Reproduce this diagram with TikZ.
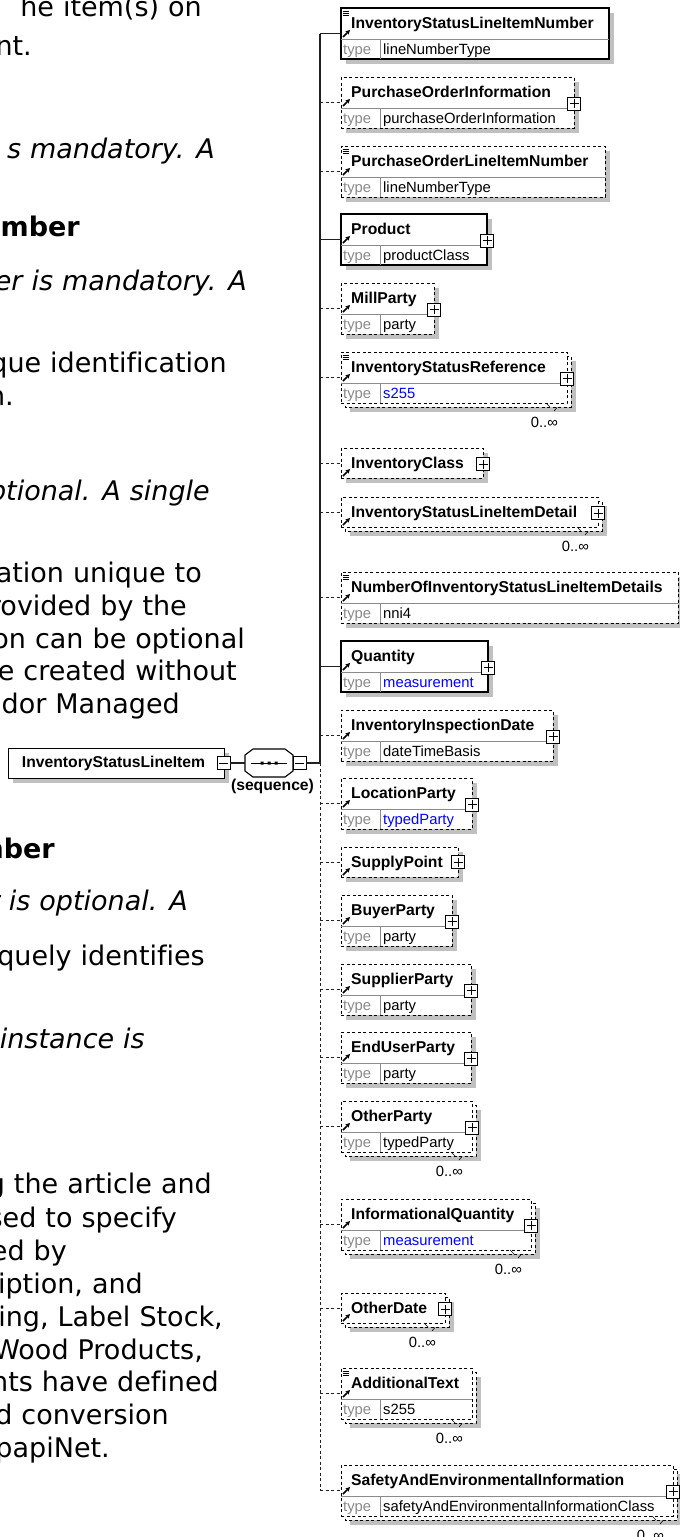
\documentclass[tikz,border=0pt]{standalone}
\usepackage{fontspec}
\setmainfont{DejaVu Sans}[Ligatures=NoCommon, WordSpace=1.05]
\newfontfamily\dfont{Liberation Sans}
\usetikzlibrary{arrows.meta}
\definecolor{shadowc}{HTML}{C0C0C0}
\definecolor{divc}{HTML}{8A8A8A}
\definecolor{typec}{HTML}{8A8A8A}
\definecolor{bluec}{HTML}{0000FF}
\definecolor{linec}{HTML}{202020}
\tikzset{
  mand/.style={draw=black, line width=1.1pt, fill=white},
  opt/.style={draw=black, line width=0.9pt, dash pattern=on 3pt off 2.5pt, fill=white},
  divline/.style={draw=divc, line width=0.8pt},
  nm/.style={anchor=base west, inner sep=0, font=\dfont\bfseries\fontsize{15.7}{18}\selectfont},
  tl/.style={anchor=base west, inner sep=0, text=typec, font=\dfont\fontsize{14.8}{17}\selectfont},
  tv/.style={anchor=base west, inner sep=0, font=\dfont\fontsize{14.8}{17}\selectfont},
  mult/.style={anchor=base east, inner sep=0, font=\dfont\fontsize{14.8}{17}\selectfont},
  refarrow/.style={-{Stealth[length=4.5pt,width=4.5pt]}, line width=1.5pt},
  mandconn/.style={draw=linec, line width=1.1pt},
  optconn/.style={draw=linec, line width=0.9pt, dash pattern=on 3pt off 2.5pt},
  plusbox/.style={draw=black, fill=white, line width=0.9pt, minimum size=13pt, inner sep=0,
    path picture={\draw[line width=0.9pt] ([xshift=-4.5pt]path picture bounding box.center) -- ([xshift=4.5pt]path picture bounding box.center) ([yshift=-4.5pt]path picture bounding box.center) -- ([yshift=4.5pt]path picture bounding box.center);}},
  minusbox/.style={draw=black, fill=white, line width=0.9pt, minimum size=13pt, inner sep=0,
    path picture={\draw[line width=0.9pt] ([xshift=-4.5pt]path picture bounding box.center) -- ([xshift=4.5pt]path picture bounding box.center);}},
  lt/.style={anchor=base east, inner sep=0, font=\fontsize{27}{31}\selectfont},
  lti/.style={lt, font=\fontsize{27}{31}\selectfont\itshape},
  ltb/.style={lt, font=\fontsize{27}{31}\selectfont\bfseries},
}
% typed element: id, top, right, style, name, type, type colour, multi
\newcommand\elemT[8]{%
  \ifnum#8=1
    \fill[shadowc] (350,#2+9) rectangle (#3+9,#2+60);
    \draw[#4] (345,#2+4) rectangle (#3+4,#2+55);
  \else
    \fill[shadowc] (346,#2+5) rectangle (#3+5,#2+56);
  \fi
  \node[#4, anchor=north west, minimum width=#3-341, minimum height=51, inner sep=0, outer sep=0] (#1) at (341,#2) {};
  \draw[divline] (341,#2+31) -- (#3,#2+31) (380,#2+31) -- (380,#2+51);
  \node[nm] (#1-name) at (351,#2+20.5) {#5};
  \node[tl] (#1-tl) at (343,#2+46) {type};
  \node[tv, text=#7] (#1-tv) at (383,#2+46) {#6};
  \draw[refarrow] (343,#2+29) -- (350,#2+22);
}
% untyped element: id, top, right, style, name, multi
\newcommand\elemU[6]{%
  \ifnum#6=1
    \fill[shadowc] (350,#2+9) rectangle (#3+9,#2+39);
    \draw[#4] (345,#2+4) rectangle (#3+4,#2+34);
  \else
    \fill[shadowc] (346,#2+5) rectangle (#3+5,#2+35);
  \fi
  \node[#4, anchor=north west, minimum width=#3-341, minimum height=30, inner sep=0, outer sep=0] (#1) at (341,#2) {};
  \node[nm] (#1-name) at (351,#2+20.5) {#5};
  \draw[refarrow] (343,#2+28) -- (350,#2+21);
}
% multiplicity label: id, right, bottom
\newcommand\multlab[3]{%
  \node[mult] (#1-mult) at (#2-9,#3+24) {0..∞};
  \draw[line width=0.6pt] (#2-21,#3) -- (#2-17,#3+4) (#2-13,#3+8) -- (#2-10,#3+4.5);
}
\newcommand\simpleicon[1]{%
  \draw[line width=0.6pt] (342.5,#1+3) -- (348.5,#1+3) (342.5,#1+5.3) -- (348.5,#1+5.3) (342.5,#1+7.6) -- (348.5,#1+7.6);
}
\begin{document}
\begin{tikzpicture}[x=1pt,y=-1pt]
\useasboundingbox (0,0) rectangle (680,1537);
\fill[white] (0,0) rectangle (680,1537);

% ---------- left text (cut off at the left edge) ----------
\node[lt]  (t1)  at (202,16)   {he item(s) on};
\node[lt]  (t2)  at (32,55)    {nt.};
\node[lti] (t3)  at (215,158)  {s mandatory. A};
\node[ltb] (t4)  at (80,236)   {umber};
\node[lti] (t5)  at (247,290)  {er is mandatory. A};
\node[lt]  (t6)  at (227,372)  {que identification};
\node[lt]  (t7)  at (14,405)   {n.};
\node[lti] (t8)  at (210,500)  {optional. A single};
\node[lt]  (t9)  at (202,582)  {ation unique to};
\node[lt]  (t10) at (187,615)  {rovided by the};
\node[lt]  (t11) at (245,648)  {on can be optional};
\node[lt]  (t12) at (237,680)  {re created without};
\node[lt]  (t13) at (180,713)  {ndor Managed};
\node[ltb] (t14) at (55,858)   {nber};
\node[lti] (t15) at (188,910)  {r is optional. A};
\node[lt]  (t16) at (205,965)  {iquely identifies};
\node[lti] (t17) at (145,1048) {instance is};
\node[lt]  (t18) at (212,1193) {g the article and};
\node[lt]  (t19) at (177,1227) {sed to specify};
\node[lt]  (t20) at (67,1260)  {ed by};
\node[lt]  (t21) at (143,1293) {ription, and};
\node[lt]  (t22) at (223,1326) {ring, Label Stock,};
\node[lt]  (t23) at (203,1359) {Wood Products,};
\node[lt]  (t24) at (219,1391) {nts have defined};
\node[lt]  (t25) at (169,1424) {d conversion};
\node[lt]  (t26) at (110,1457) {papiNet.};

% ---------- root element and sequence ----------
\fill[shadowc] (13,753) rectangle (229,783);
\node[mand, minimum width=216, minimum height=30, anchor=north west, inner sep=0,
      font=\dfont\bfseries\fontsize{15.7}{18}\selectfont] (root) at (8,748) {\hspace*{-6pt}InventoryStatusLineItem};
\node[minusbox] (rootminus) at (223.5,763) {};

\node[minimum width=48, minimum height=28, inner sep=0, outer sep=0, anchor=west] (seq) at (245,763) {};
\begin{scope}[xshift=4pt, yshift=-4pt]
\fill[shadowc] ([xshift=8pt]seq.north west) -- ([xshift=-8pt]seq.north east) -- ([yshift=-6pt]seq.north east) -- ([yshift=6pt]seq.south east) -- ([xshift=-8pt]seq.south east) -- ([xshift=8pt]seq.south west) -- ([yshift=6pt]seq.south west) -- ([yshift=-6pt]seq.north west) -- cycle;
\end{scope}
\draw[mand] ([xshift=8pt]seq.north west) -- ([xshift=-8pt]seq.north east) -- ([yshift=-6pt]seq.north east) -- ([yshift=6pt]seq.south east) -- ([xshift=-8pt]seq.south east) -- ([xshift=8pt]seq.south west) -- ([yshift=6pt]seq.south west) -- ([yshift=-6pt]seq.north west) -- cycle;
\draw[line width=1pt] (251,763) -- (287,763);
\fill (260.5,761.5) rectangle (263.5,764.5) (267.5,761.5) rectangle (270.5,764.5) (274.5,761.5) rectangle (277.5,764.5);
\node[minusbox] (seqminus) at (299.5,763) {};
\node[anchor=base, inner sep=0, font=\dfont\bfseries\fontsize{15.7}{18}\selectfont] (seqlabel) at (272.5,790) {(sequence)};
\draw[mandconn] (rootminus.east) -- (seq.west);

% ---------- child elements ----------
\elemT{e1}{8}{609}{mand}{InventoryStatusLineItemNumber}{lineNumberType}{black}{0}
\simpleicon{8}
\elemT{e2}{77}{574}{opt}{PurchaseOrderInformation}{purchaseOrderInformation}{black}{0}
\node[plusbox] (e2-plus) at (574,103.5) {};
\elemT{e3}{146}{605}{opt}{PurchaseOrderLineItemNumber}{lineNumberType}{black}{0}
\simpleicon{146}
\elemT{e4}{214}{487}{mand}{Product}{productClass}{black}{0}
\node[plusbox] (e4-plus) at (487,240.5) {};
\elemT{e5}{283}{434}{opt}{MillParty}{party}{black}{0}
\node[plusbox] (e5-plus) at (434,309.5) {};
\elemT{e6}{352}{567}{opt}{InventoryStatusReference}{s255}{bluec}{1}
\simpleicon{352}
\node[plusbox] (e6-plus) at (567,378.5) {};
\multlab{e6}{567}{403}
\elemU{e7}{448}{483}{opt}{InventoryClass}{0}
\node[plusbox] (e7-plus) at (483,464) {};
\elemU{e8}{497}{598}{opt}{InventoryStatusLineItemDetail}{1}
\node[plusbox] (e8-plus) at (598,513) {};
\multlab{e8}{598}{527}
\elemT{e9}{572}{678}{opt}{NumberOfInventoryStatusLineItemDetails}{nni4}{black}{0}
\simpleicon{572}
\elemT{e10}{641}{488}{mand}{Quantity}{measurement}{bluec}{0}
\node[plusbox] (e10-plus) at (488,667.5) {};
\elemT{e11}{710}{553}{opt}{InventoryInspectionDate}{dateTimeBasis}{black}{0}
\node[plusbox] (e11-plus) at (553,736.5) {};
\elemT{e12}{778}{472}{opt}{LocationParty}{typedParty}{bluec}{0}
\node[plusbox] (e12-plus) at (472,804.5) {};
\elemU{e13}{847}{458}{opt}{SupplyPoint}{0}
\node[plusbox] (e13-plus) at (458,862) {};
\elemT{e14}{895}{452}{opt}{BuyerParty}{party}{black}{0}
\node[plusbox] (e14-plus) at (452,921.5) {};
\elemT{e15}{964}{471}{opt}{SupplierParty}{party}{black}{0}
\node[plusbox] (e15-plus) at (471,990.5) {};
\elemT{e16}{1032}{471}{opt}{EndUserParty}{party}{black}{0}
\node[plusbox] (e16-plus) at (471,1058.5) {};
\elemT{e17}{1101}{472}{opt}{OtherParty}{typedParty}{black}{1}
\node[plusbox] (e17-plus) at (472,1127.5) {};
\multlab{e17}{472}{1152}
\elemT{e18}{1199}{531}{opt}{InformationalQuantity}{measurement}{bluec}{1}
\node[plusbox] (e18-plus) at (531,1225.5) {};
\multlab{e18}{531}{1250}
\elemU{e19}{1293}{445}{opt}{OtherDate}{1}
\node[plusbox] (e19-plus) at (445,1309) {};
\multlab{e19}{445}{1323}
\elemT{e20}{1368}{472}{opt}{AdditionalText}{s255}{black}{1}
\simpleicon{1368}
\multlab{e20}{472}{1419}
\elemT{e21}{1465}{673}{opt}{SafetyAndEnvironmentalInformation}{safetyAndEnvironmentalInformationClass}{black}{1}
\node[plusbox] (e21-plus) at (673,1491.5) {};
\multlab{e21}{673}{1516}

% ---------- trunk and connectors ----------
\coordinate (tj) at (320,763);
\draw[mandconn] (seqminus.east) -- (tj);
\draw[mandconn] (e1.west -| tj) -- (tj);
\draw[optconn] (tj) -- (e21.west -| tj);
\foreach \e in {e1,e4,e10} {\draw[mandconn] (\e.west -| tj) -- (\e.west);}
\foreach \e in {e2,e3,e5,e6,e7,e8,e9,e11,e12,e13,e14,e15,e16,e17,e18,e19,e20,e21} {\draw[optconn] (\e.west -| tj) -- (\e.west);}
\end{tikzpicture}
\end{document}
